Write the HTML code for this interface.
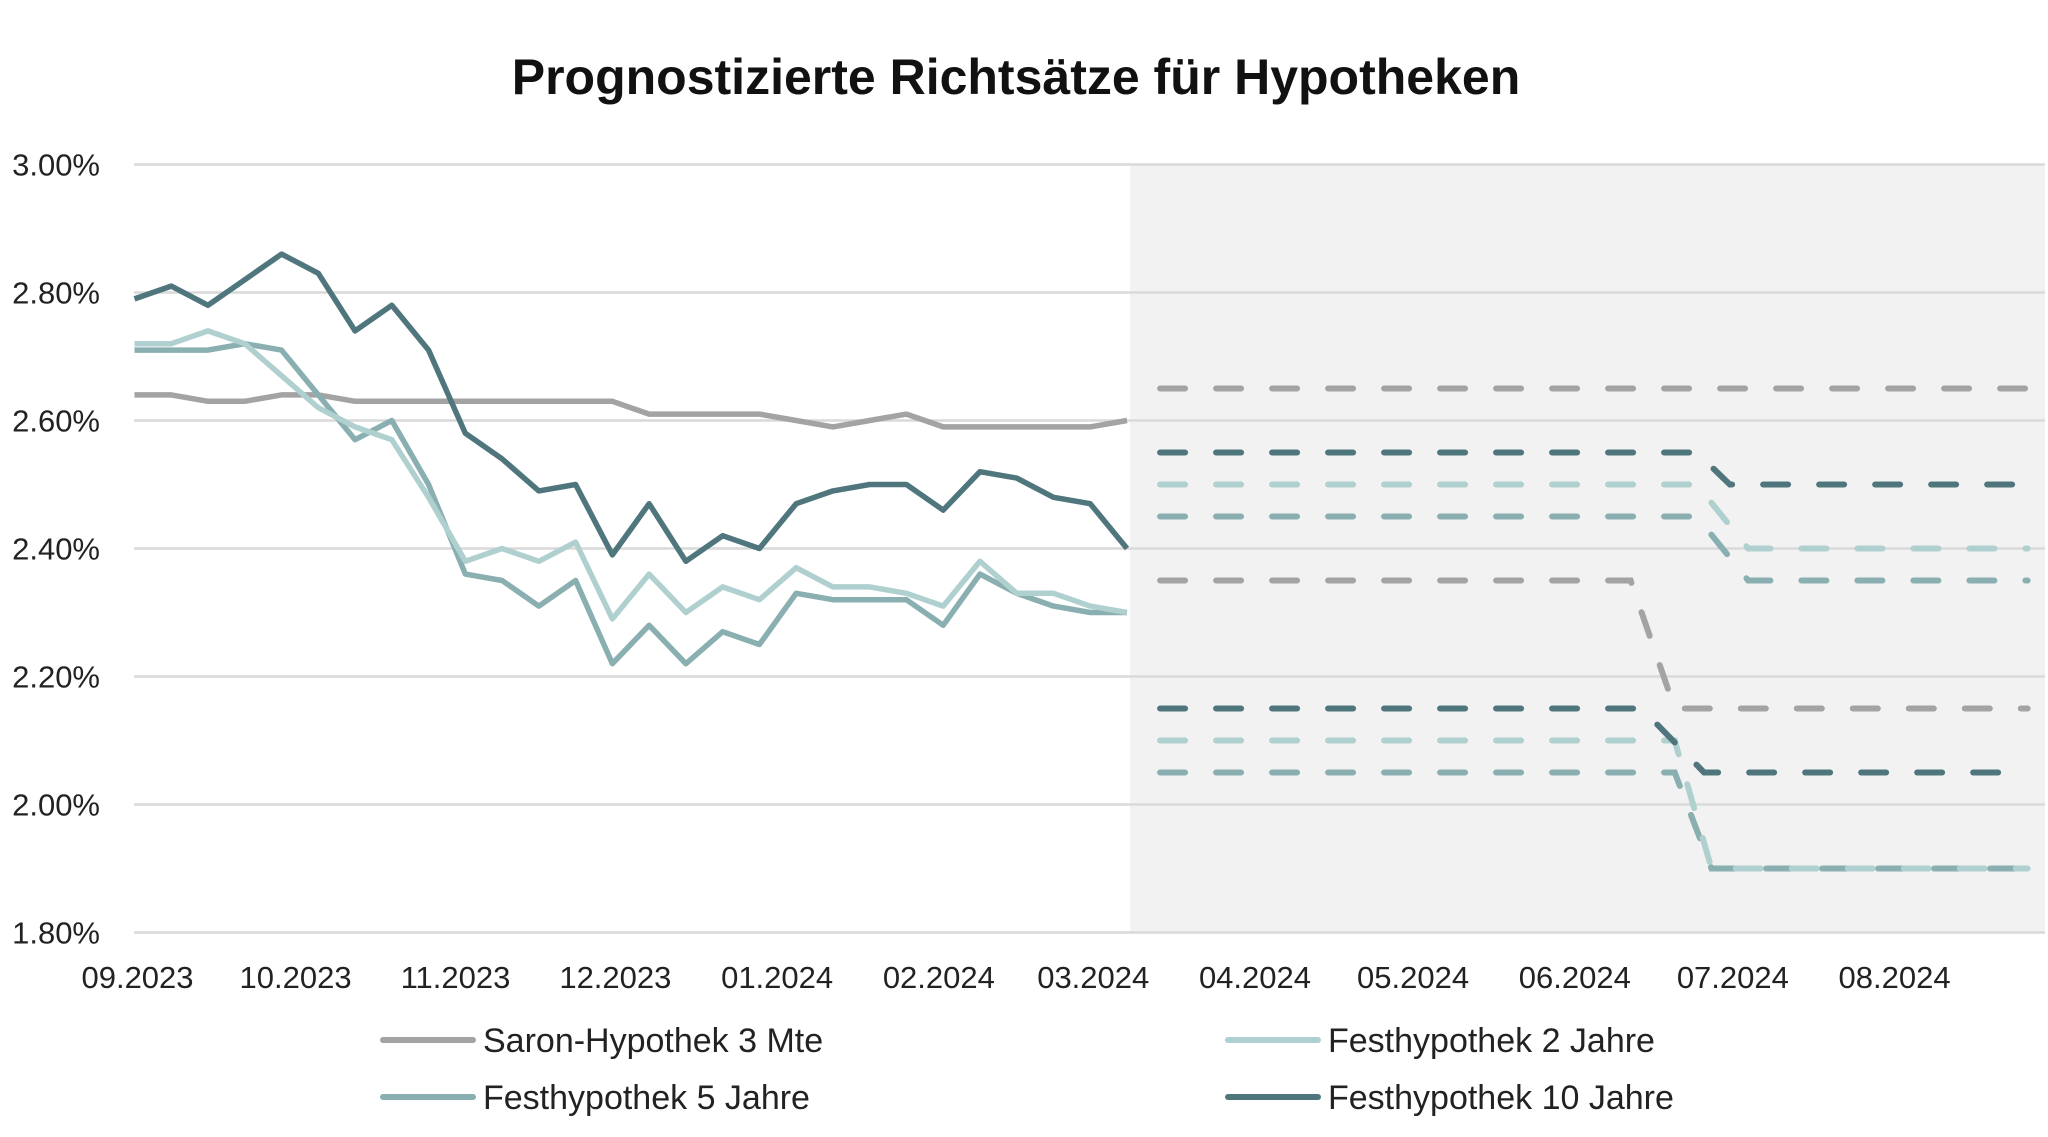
<!DOCTYPE html>
<html><head><meta charset="utf-8"><style>
html,body{margin:0;padding:0;background:#fff;}
svg{display:block;font-family:"Liberation Sans",sans-serif;}
</style></head><body>
<svg id="chart" width="2048" height="1137" viewBox="0 0 2048 1137" xmlns="http://www.w3.org/2000/svg">
<text x="1016" y="94" text-anchor="middle" font-size="50" font-weight="bold" fill="#111">Prognostizierte Richtsätze für Hypotheken</text>
<g id="plot"></g>
<g id="legend"></g>
</svg>
<script>
const yTicks = [1.8, 2.0, 2.2, 2.4, 2.6, 2.8, 3.0];
const yTickLabels = ["1.80%","2.00%","2.20%","2.40%","2.60%","2.80%","3.00%"];
const monthLabels = ["09.2023","10.2023","11.2023","12.2023","01.2024","02.2024","03.2024","04.2024","05.2024","06.2024","07.2024","08.2024"];
const monthWeeks = [0,4.3,8.65,13,17.4,21.8,26,30.4,34.7,39.1,43.4,47.8];
const saron = [2.64,2.64,2.63,2.63,2.64,2.64,2.63,2.63,2.63,2.63,2.63,2.63,2.63,2.63,2.61,2.61,2.61,2.61,2.60,2.59,2.60,2.61,2.59,2.59,2.59,2.59,2.59,2.60];
const fest2 = [2.72,2.72,2.74,2.72,2.67,2.62,2.59,2.57,2.48,2.38,2.40,2.38,2.41,2.29,2.36,2.30,2.34,2.32,2.37,2.34,2.34,2.33,2.31,2.38,2.33,2.33,2.31,2.30];
const fest5 = [2.71,2.71,2.71,2.72,2.71,2.64,2.57,2.60,2.50,2.36,2.35,2.31,2.35,2.22,2.28,2.22,2.27,2.25,2.33,2.32,2.32,2.32,2.28,2.36,2.33,2.31,2.30,2.30];
const fest10 = [2.79,2.81,2.78,2.82,2.86,2.83,2.74,2.78,2.71,2.58,2.54,2.49,2.50,2.39,2.47,2.38,2.42,2.40,2.47,2.49,2.50,2.50,2.46,2.52,2.51,2.48,2.47,2.40];
// forecast series: [week, value]
const saronHigh = [[27.9,2.65],[51.5,2.65]];
const saronLow = [[27.9,2.35],[40.7,2.35],[41.9,2.15],[51.5,2.15]];
const fest10High = [[27.9,2.55],[42.5,2.55],[43.4,2.50],[51.5,2.50]];
const fest10Low = [[27.9,2.15],[41.0,2.15],[42.7,2.05],[51.5,2.05]];
const fest2High = [[27.9,2.50],[42.5,2.50],[43.9,2.40],[51.5,2.40]];
const fest5High = [[27.9,2.45],[42.5,2.45],[43.9,2.35],[51.5,2.35]];
const fest2Low = [[27.9,2.10],[41.9,2.10],[42.9,1.90],[51.5,1.90]];
const fest5Low = [[27.9,2.05],[41.9,2.05],[42.9,1.90],[51.5,1.90]];

const NS="http://www.w3.org/2000/svg";
const plot=document.getElementById('plot');
const X0=134.5, XW=(1127-134.5)/27, Y0=932.5, YR=768;
function xs(w){return X0+w*XW;}
function ys(v){return Y0-(v-1.8)/1.2*YR;}
function mk(tag,attrs,parent){const e=document.createElementNS(NS,tag);for(const k in attrs)e.setAttribute(k,attrs[k]);(parent||plot).appendChild(e);return e;}

const shade=mk('rect',{x:1130,y:ys(3.0),width:2045-1130,height:ys(1.8)-ys(3.0),fill:'#f2f2f2'});



yTicks.forEach((t,i)=>{
  const l=mk('line',{x1:134,x2:2045,y1:ys(t),y2:ys(t),stroke:'#d9d9d9','stroke-width':2.5});
  
  
  const tx=mk('text',{x:100,y:ys(t)+11,'text-anchor':'end','font-size':31,fill:'#222'});
  tx.textContent=yTickLabels[i];
  
  
});
monthLabels.forEach((m,i)=>{
  const tx=mk('text',{x:xs(monthWeeks[i])+3,y:988,'text-anchor':'middle','font-size':31,fill:'#222'});
  tx.textContent=m;
  
  
});

function hist(arr,color,name){
  const p=mk('polyline',{points:arr.map((v,i)=>xs(i)+','+ys(v)).join(' '),fill:'none',stroke:color,'stroke-width':5.5,'stroke-linejoin':'round'});
  
  
}
function fc(arr,color,name){
  const p=mk('polyline',{points:arr.map(d=>xs(d[0])+','+ys(d[1])).join(' '),fill:'none',stroke:color,'stroke-width':6,'stroke-linecap':'round','stroke-dasharray':'25 31'});
  
  
}
const C={s:'#a3a3a3',f2:'#b0d0d0',f5:'#8aafb0',f10:'#50767d'};
hist(saron,C.s,'saron-line');
hist(fest5,C.f5,'fest5-line');
hist(fest2,C.f2,'fest2-line');
hist(fest10,C.f10,'fest10-line');
fc(saronHigh,C.s,'saron-forecast-high');
fc(saronLow,C.s,'saron-forecast-low');
fc(fest5High,C.f5,'fest5-forecast-high');
fc(fest5Low,C.f5,'fest5-forecast-low');
fc(fest2High,C.f2,'fest2-forecast-high');
fc(fest2Low,C.f2,'fest2-forecast-low');
fc(fest10High,C.f10,'fest10-forecast-high');
fc(fest10Low,C.f10,'fest10-forecast-low');

const leg=document.getElementById('legend');
const legendItems=[["Saron-Hypothek 3 Mte",C.s,383,1040],["Festhypothek 2 Jahre",C.f2,1228,1040],["Festhypothek 5 Jahre",C.f5,383,1097],["Festhypothek 10 Jahre",C.f10,1228,1097]];
legendItems.forEach(it=>{
  const g=mk('g',{},leg);
  
  
  mk('line',{x1:it[2],x2:it[2]+90,y1:it[3],y2:it[3],stroke:it[1],'stroke-width':6,'stroke-linecap':'round'},g);
  const t=mk('text',{x:it[2]+100,y:it[3]+12,'font-size':34,fill:'#222'},g);
  t.textContent=it[0];
});
</script>
</body></html>
